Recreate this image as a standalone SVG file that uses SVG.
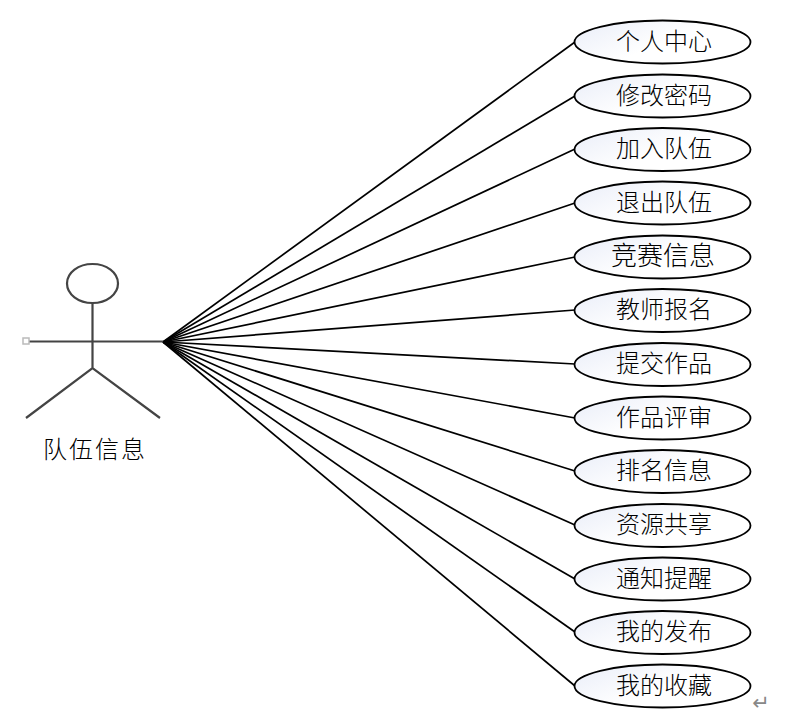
<svg xmlns="http://www.w3.org/2000/svg" width="786" height="715" viewBox="0 0 786 715">
<style>
.uc{fill:url(#g);stroke:#000;stroke-width:1.800}
.t{font-family:"Noto Sans CJK SC","Liberation Serif",sans-serif;font-size:24px;text-anchor:middle;fill:#000;font-weight:300}
.c line{stroke:#000;stroke-width:1.700}
.a{fill:none;stroke:#444;stroke-width:2.200}
</style>
<defs><linearGradient id="g" x1="0" y1="0" x2="1" y2="0.6"><stop offset="0" stop-color="#e9edf8"/><stop offset="0.6" stop-color="#fff"/></linearGradient></defs>
<rect width="786" height="715" fill="#fff"/>
<g id="connectors" class="c">
<line x1="163" y1="342" x2="575" y2="42"/>
<line x1="163" y1="342" x2="575" y2="96"/>
<line x1="163" y1="342" x2="575" y2="149"/>
<line x1="163" y1="342" x2="575" y2="203"/>
<line x1="163" y1="342" x2="575" y2="257"/>
<line x1="163" y1="342" x2="575" y2="310"/>
<line x1="163" y1="342" x2="575" y2="364"/>
<line x1="163" y1="342" x2="575" y2="418"/>
<line x1="163" y1="342" x2="575" y2="471"/>
<line x1="163" y1="342" x2="575" y2="525"/>
<line x1="163" y1="342" x2="575" y2="579"/>
<line x1="163" y1="342" x2="575" y2="632"/>
<line x1="163" y1="342" x2="575" y2="686"/>
</g>
<g id="actor">
<ellipse class="a" cx="92.500" cy="283.500" rx="25.500" ry="19.500"/>
<path class="a" d="M92.500 303V368M29 341.500H163M26 418L92.500 368L160 418"/>
<rect x="23" y="338" width="6" height="6" fill="#fff" stroke="#bbb" stroke-width="1.500"/>
<text class="t" x="95" y="458" style="letter-spacing:2px">队伍信息</text>
</g>
<g id="n1"><ellipse class="uc" cx="662.500" cy="42" rx="88" ry="21.500"/><text class="t" x="664" y="50">个人中心</text></g>
<g id="n2"><ellipse class="uc" cx="662.500" cy="96" rx="88" ry="21.500"/><text class="t" x="664" y="104">修改密码</text></g>
<g id="n3"><ellipse class="uc" cx="662.500" cy="149.500" rx="88" ry="21.500"/><text class="t" x="664" y="157">加入队伍</text></g>
<g id="n4"><ellipse class="uc" cx="662.500" cy="203" rx="88" ry="21.500"/><text class="t" x="664" y="211">退出队伍</text></g>
<g id="n5"><ellipse class="uc" cx="662.500" cy="257" rx="88" ry="21.500"/><text class="t" x="663" y="265" style="font-size:26px">竞赛信息</text></g>
<g id="n6"><ellipse class="uc" cx="662.500" cy="310.500" rx="88" ry="21.500"/><text class="t" x="664" y="318">教师报名</text></g>
<g id="n7"><ellipse class="uc" cx="662.500" cy="364.500" rx="88" ry="21.500"/><text class="t" x="664" y="372">提交作品</text></g>
<g id="n8"><ellipse class="uc" cx="662.500" cy="418" rx="88" ry="21.500"/><text class="t" x="664" y="426">作品评审</text></g>
<g id="n9"><ellipse class="uc" cx="662.500" cy="471.500" rx="88" ry="21.500"/><text class="t" x="664" y="479">排名信息</text></g>
<g id="n10"><ellipse class="uc" cx="662.500" cy="525.500" rx="88" ry="21.500"/><text class="t" x="664" y="533">资源共享</text></g>
<g id="n11"><ellipse class="uc" cx="662.500" cy="579" rx="88" ry="21.500"/><text class="t" x="664" y="587">通知提醒</text></g>
<g id="n12"><ellipse class="uc" cx="662.500" cy="632.500" rx="88" ry="21.500"/><text class="t" x="664" y="640">我的发布</text></g>
<g id="n13"><ellipse class="uc" cx="662.500" cy="686" rx="88" ry="21.500"/><text class="t" x="664" y="694">我的收藏</text></g>
<text x="761" y="710" font-family="DejaVu Sans,sans-serif" font-size="21" text-anchor="middle" fill="#888">↵</text>
</svg>
